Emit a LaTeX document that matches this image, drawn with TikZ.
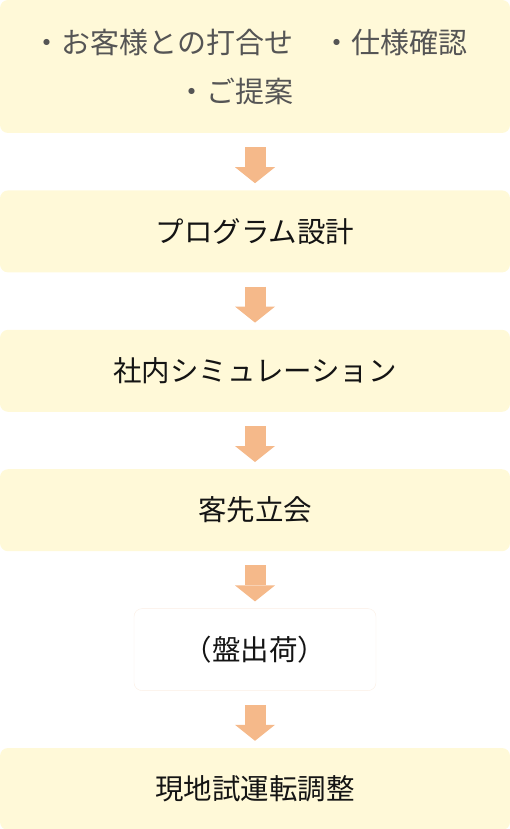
\documentclass[tikz,border=0pt]{standalone}
\usepackage{fontspec}
\newfontfamily\jpfont{Noto Sans CJK JP}
\usetikzlibrary{arrows.meta,positioning}
\definecolor{cream}{HTML}{FFF9D8}
\definecolor{peach}{HTML}{F5B98A}
\definecolor{faint}{HTML}{FBEEE4}
\definecolor{darktext}{HTML}{555555}

\begin{document}
\begin{tikzpicture}[
    node distance=57pt,
    stage/.style={fill=cream, rounded corners=8pt, minimum width=510pt, minimum height=82pt, inner sep=0pt, font=\jpfont\fontsize{28.5}{34}\selectfont, text=black!92},
    flow/.style={peach, line width=21pt, -{Triangle[width=40pt 0 0, length=16pt 0 0, line width=0pt 0 0]}, shorten <=14pt, shorten >=7pt},
]
\useasboundingbox (0,0) rectangle (510pt,-829pt);
\node[stage, minimum height=133pt, text=darktext, align=center, font=\jpfont\fontsize{29}{49}\selectfont] (meet) at (255pt,-66.5pt) {・お客様との打合せ　・仕様確認\hspace*{10pt}\\・ご提案　\hspace*{10pt}};
\node[stage, below=of meet]    (program) {プログラム設計};
\node[stage, below=of program] (sim)    {社内シミュレーション};
\node[stage, below=of sim]     (witness) {客先立会};
\node[stage, below=of witness, fill=white, draw=faint, minimum width=242pt] (ship) {（盤出荷）};
\node[stage, below=of ship]    (onsite) {現地試運転調整};

\draw[flow] (meet) -- (program);
\draw[flow] (program) -- (sim);
\draw[flow] (sim) -- (witness);
\draw[flow] (witness) -- (ship);
\draw[flow] (ship) -- (onsite);
\end{tikzpicture}
\end{document}
